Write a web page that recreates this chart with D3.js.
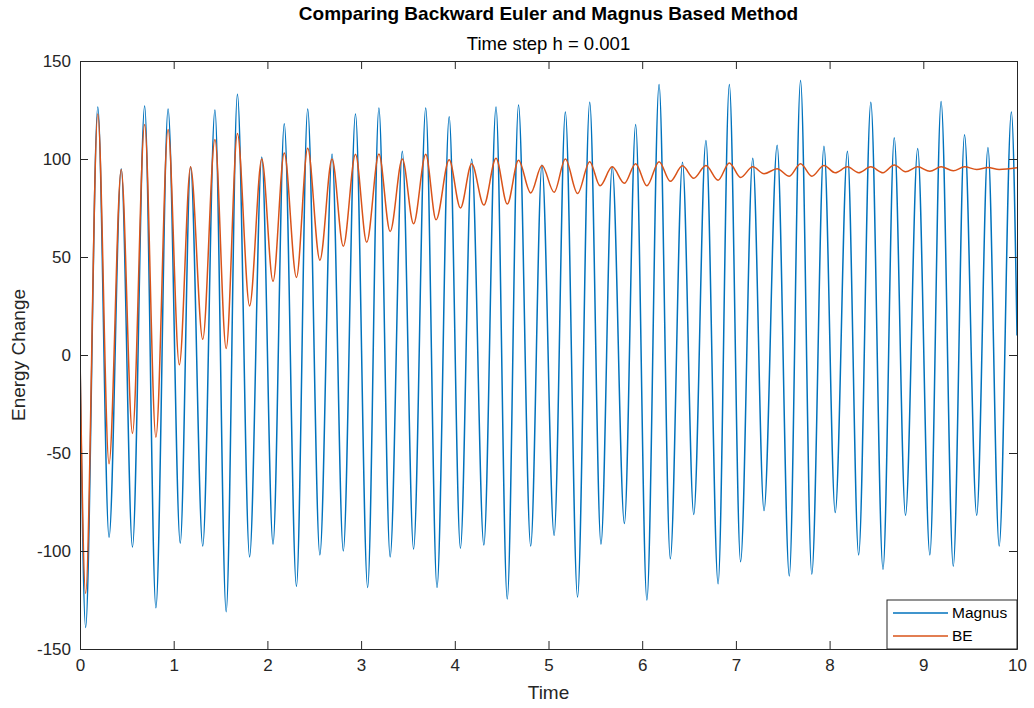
<!DOCTYPE html>
<html>
<head>
<meta charset="utf-8">
<script src="https://cdn.jsdelivr.net/npm/d3@7"></script>
<style>
  html, body { margin: 0; padding: 0; background: #fff; }
  svg { display: block; font-family: "Liberation Sans", Arial, Helvetica, sans-serif; }
</style>
</head>
<body>
<svg id="chart" width="1034" height="708"></svg>
<script>
// ---- data (local extrema of each series) ----
const magnusTime = [0, 0.06, 0.19, 0.31, 0.44, 0.56, 0.69, 0.81, 0.94, 1.07, 1.18, 1.31, 1.44, 1.56, 1.68, 1.81, 1.94, 2.06, 2.18, 2.31, 2.43, 2.56, 2.69, 2.81, 2.94, 3.07, 3.19, 3.31, 3.44, 3.56, 3.69, 3.81, 3.94, 4.06, 4.18, 4.31, 4.44, 4.56, 4.68, 4.81, 4.93, 5.06, 5.18, 5.31, 5.44, 5.56, 5.68, 5.81, 5.93, 6.05, 6.18, 6.30, 6.43, 6.55, 6.68, 6.81, 6.93, 7.05, 7.18, 7.30, 7.44, 7.57, 7.69, 7.81, 7.94, 8.06, 8.19, 8.31, 8.44, 8.57, 8.69, 8.81, 8.94, 9.07, 9.19, 9.32, 9.44, 9.57, 9.69, 9.81, 9.94, 10];
const magnusValue = [0, -139, 126.5, -93, 95, -98, 127, -129, 125.5, -96, 96, -97.5, 125, -131, 133, -103, 101, -96.5, 118, -118, 125.5, -102, 102.5, -100, 123, -118.6, 126, -103, 104, -99, 126, -118.6, 121.6, -98.6, 100, -97, 126.5, -124.5, 127.5, -97.5, 97, -92, 124, -123.5, 129, -96.5, 96, -86, 117.6, -125, 138, -104, 98.4, -81.4, 109.4, -116.7, 138, -105.5, 100.4, -79.4, 107, -112.7, 140, -111.8, 106.5, -80.4, 104, -102, 129, -109.4, 110.8, -81.8, 105.3, -102, 129.4, -107.8, 112.4, -81.8, 105.9, -97.5, 124, 10];

const beTime = [0, 0.06, 0.19, 0.31, 0.44, 0.56, 0.69, 0.81, 0.94, 1.06, 1.18, 1.31, 1.44, 1.56, 1.68, 1.81, 1.94, 2.06, 2.18, 2.31, 2.43, 2.56, 2.69, 2.81, 2.94, 3.06, 3.19, 3.31, 3.44, 3.56, 3.69, 3.80, 3.94, 4.06, 4.18, 4.31, 4.44, 4.56, 4.68, 4.81, 4.93, 5.06, 5.18, 5.31, 5.44, 5.55, 5.68, 5.81, 5.93, 6.05, 6.18, 6.30, 6.43, 6.55, 6.68, 6.81, 6.93, 7.05, 7.18, 7.30, 7.44, 7.57, 7.69, 7.81, 7.94, 8.06, 8.19, 8.31, 8.44, 8.57, 8.69, 8.81, 8.94, 9.07, 9.19, 9.32, 9.44, 9.57, 9.69, 9.81, 10];
const beValue = [0, -121.6, 123, -55.5, 94.7, -40, 117.6, -42, 115, -5, 96, 8, 110, 3.3, 113, 25, 100, 37.6, 103, 39.6, 105.5, 48.4, 100, 55.5, 102.4, 57.5, 102.5, 63, 100, 67, 102.4, 69, 99.6, 75, 97.6, 76.5, 100.4, 77, 99.4, 82.7, 96.7, 83, 100, 82.4, 98.6, 86.3, 96, 87.6, 97.6, 86.3, 98.6, 88.6, 96.5, 90.2, 96.7, 89.2, 98, 90.6, 96, 92.5, 95, 91.2, 97.6, 91.2, 96.7, 93, 96, 93, 96, 93, 97, 93.5, 96, 93.7, 96, 94, 96, 94.7, 95.7, 94.7, 95.5];

const seriesNames = ["Magnus", "BE"];
const xTicks = [0, 1, 2, 3, 4, 5, 6, 7, 8, 9, 10];
const yTicks = [-150, -100, -50, 0, 50, 100, 150];
const titleText = "Comparing Backward Euler and Magnus Based Method";
const subtitleText = "Time step h = 0.001";
const xLabel = "Time";
const yLabel = "Energy Change";

// ---- layout ----
const W = 1034, H = 708;
const m = { left: 80, right: 17, top: 61, bottom: 59 };
const iw = W - m.left - m.right, ih = H - m.top - m.bottom;
const axisColor = "#262626";
const colors = ["#0072BD", "#D95319"];

const svg = d3.select("#chart");
const g = svg.append("g").attr("transform", `translate(${m.left},${m.top})`);

const x = d3.scaleLinear().domain([0, 10]).range([0, iw]);
const y = d3.scaleLinear().domain([-150, 150]).range([ih, 0]);

// clip
svg.append("defs").append("clipPath").attr("id", "clip")
  .append("rect").attr("x", 0).attr("y", 0).attr("width", iw).attr("height", ih);

// background
g.append("rect").attr("width", iw).attr("height", ih).attr("fill", "#fff");

const line = d3.line().x(d => x(d[0])).y(d => y(d[1])).curve(d3.curveMonotoneX);
const magnusData = magnusTime.map((t, i) => [t, magnusValue[i]]);
const beData = beTime.map((t, i) => [t, beValue[i]]);

const plot = g.append("g").attr("clip-path", "url(#clip)");
plot.append("path").datum(magnusData).attr("d", line)
  .attr("fill", "none").attr("stroke", colors[0]).attr("stroke-width", 1.5).attr("stroke-linejoin", "round");
plot.append("path").datum(beData).attr("d", line)
  .attr("fill", "none").attr("stroke", colors[1]).attr("stroke-width", 1.5).attr("stroke-linejoin", "round");

// axes (MATLAB style: inward ticks, boxed)
const tickLen = 8;
const fmt = d => String(d);   // plain hyphen-minus like the reference
function styleAxis(sel, showText) {
  sel.select(".domain").attr("stroke", axisColor).attr("stroke-width", 1);
  sel.selectAll(".tick line").attr("stroke", axisColor).attr("stroke-width", 1);
  sel.selectAll(".tick text").attr("fill", axisColor).style("font-size", "17px");
  if (!showText) sel.selectAll(".tick text").remove();
  sel.attr("font-family", null);
}
const xAxis = g.append("g").attr("transform", `translate(0,${ih})`)
  .call(d3.axisBottom(x).tickValues(xTicks).tickFormat(fmt).tickSizeInner(-tickLen).tickSizeOuter(0).tickPadding(10));
styleAxis(xAxis, true);
const xAxisTop = g.append("g")
  .call(d3.axisTop(x).tickValues(xTicks).tickSizeInner(-tickLen).tickSizeOuter(0));
styleAxis(xAxisTop, false);
const yAxis = g.append("g")
  .call(d3.axisLeft(y).tickValues(yTicks).tickFormat(fmt).tickSizeInner(-tickLen).tickSizeOuter(0).tickPadding(9));
styleAxis(yAxis, true);
const yAxisRight = g.append("g").attr("transform", `translate(${iw},0)`)
  .call(d3.axisRight(y).tickValues(yTicks).tickSizeInner(-tickLen).tickSizeOuter(0));
styleAxis(yAxisRight, false);

// titles
svg.append("text").attr("x", m.left + iw / 2).attr("y", 20).attr("text-anchor", "middle")
  .attr("font-weight", "bold").style("font-size", "19px").attr("fill", "#000").text(titleText);
svg.append("text").attr("x", m.left + iw / 2).attr("y", 50).attr("text-anchor", "middle")
  .style("font-size", "18.5px").attr("fill", "#000").text(subtitleText);
svg.append("text").attr("x", m.left + iw / 2).attr("y", 699).attr("text-anchor", "middle")
  .style("font-size", "19px").attr("fill", axisColor).text(xLabel);
svg.append("text").attr("transform", `translate(25,${m.top + ih / 2}) rotate(-90)`).attr("text-anchor", "middle")
  .style("font-size", "19px").attr("fill", axisColor).text(yLabel);

// legend
const lg = g.append("g").attr("transform", `translate(${iw - 130},${ih - 49})`);
lg.append("rect").attr("width", 130).attr("height", 49).attr("fill", "#fff")
  .attr("stroke", axisColor).attr("stroke-width", 1);
seriesNames.forEach((name, i) => {
  const yy = 13 + i * 23;
  lg.append("line").attr("x1", 6).attr("x2", 61).attr("y1", yy).attr("y2", yy)
    .attr("stroke", colors[i]).attr("stroke-width", 1.5);
  lg.append("text").attr("x", 65).attr("y", yy).attr("dy", "0.35em")
    .style("font-size", "15.5px").attr("fill", "#000").text(name);
});
</script>
</body>
</html>
